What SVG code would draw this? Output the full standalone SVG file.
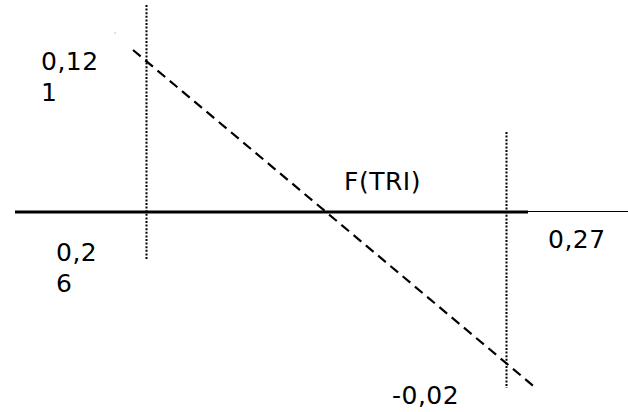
<svg xmlns="http://www.w3.org/2000/svg" width="628" height="412" viewBox="0 0 628 412">
<style>
.t{font-family:"DejaVu Sans",Verdana,sans-serif;font-size:25px;letter-spacing:0.5px;fill:#000}
.dot{stroke:#000;stroke-width:2;stroke-dasharray:2 1.6;fill:none}
.dash{stroke:#000;stroke-width:2.2;stroke-dasharray:10 6;fill:none}
</style>
<rect width="628" height="412" fill="#fff"/>
<g id="connectors">
<line x1="15" y1="212" x2="528" y2="212" stroke="#000" stroke-width="3"/>
<line x1="528" y1="211.5" x2="628" y2="211.5" stroke="#000" stroke-width="1"/>
<line class="dot" x1="146.5" y1="5" x2="146.5" y2="260"/>
<line class="dot" x1="506.5" y1="132" x2="506.5" y2="388"/>
<line class="dash" x1="133" y1="50" x2="537" y2="389"/>
<rect x="114.5" y="32.5" width="1" height="1" fill="#888"/>
</g>
<g id="label-0-121"><text class="t" x="41" y="70">0,12</text><text class="t" x="41" y="101">1</text></g>
<g id="label-0-26"><text class="t" x="56" y="261">0,2</text><text class="t" x="56" y="292">6</text></g>
<g id="label-ftri"><text class="t" x="344" y="190">F(TRI)</text></g>
<g id="label-0-27"><text class="t" x="548" y="248">0,27</text></g>
<g id="label-neg"><text class="t" x="392" y="404">-0,02</text></g>
</svg>
